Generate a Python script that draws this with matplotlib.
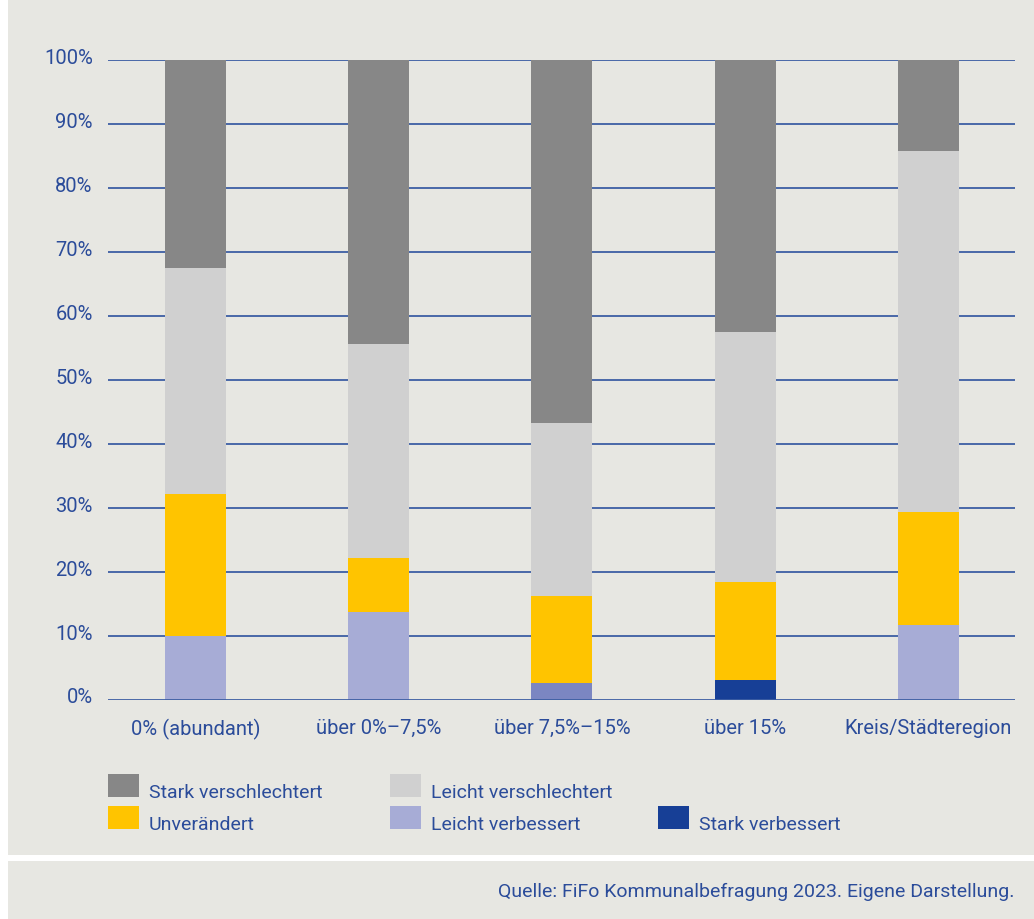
import numpy as np
import matplotlib
matplotlib.use("Agg")
import matplotlib.pyplot as plt
import matplotlib.transforms as mtrans
from matplotlib.patches import Rectangle

plt.rcParams["font.family"] = ["Roboto", "DejaVu Sans"]

# Anteile je Gruppe (in %), von unten nach oben gestapelt
kategorien = ["0% (abundant)", "über 0%–7,5%", "über 7,5%–15%", "über 15%", "Kreis/Städteregion"]
stark_verbessert = [0.0, 0.0, 0.0, 3.1, 0.0]
leicht_verbessert = [10.0, 13.75, 2.7, 0.0, 11.7]
unveraendert = [22.2, 8.45, 13.55, 15.3, 17.7]
leicht_verschlechtert = [35.3, 33.4, 27.0, 39.1, 56.4]
stark_verschlechtert = [32.5, 44.4, 56.75, 42.5, 14.2]
y_ticks = [0, 10, 20, 30, 40, 50, 60, 70, 80, 90, 100]

BG = "#e7e7e2"
BLAU = "#2b4c9a"
GRID = "#3d5ea3"

serien = [
    ("Stark verbessert", stark_verbessert, "#173f96"),
    ("Leicht verbessert", leicht_verbessert, "#a7acd6"),
    ("Unverändert", unveraendert, "#ffc400"),
    ("Leicht verschlechtert", leicht_verschlechtert, "#d0d0d0"),
    ("Stark verschlechtert", stark_verschlechtert, "#878787"),
]

fig = plt.figure(figsize=(10.34, 9.2), dpi=100)
fig.patch.set_facecolor("white")
# Hintergrundflächen: Grafik und Quellenzeile
fig.add_artist(Rectangle((8 / 1034, 64 / 920), 1, 1, transform=fig.transFigure,
                         facecolor=BG, edgecolor="none", zorder=0))
fig.add_artist(Rectangle((8 / 1034, 0), 1, 58 / 920, transform=fig.transFigure,
                         facecolor=BG, edgecolor="none", zorder=0))

ax = fig.add_axes([108 / 1034, 219 / 920, 907 / 1034, 640 / 920])
ax.set_facecolor("none")

x = np.arange(len(kategorien))
breite = 0.333
unten = np.zeros(len(kategorien))
for name, werte, farbe in serien:
    werte = np.array(werte)
    farben = [farbe] * len(kategorien)
    if name == "Leicht verbessert":
        farben[2] = "#7b86c2"
    ax.bar(x, werte, breite, bottom=unten, color=farben, zorder=3, linewidth=0)
    unten += werte

for t in y_ticks[1:]:
    ax.axhline(t, color=GRID, linewidth=1.3, zorder=1)
ax.axhline(0, color=GRID, linewidth=2.0, zorder=4)

ax.set_xlim(-0.477, 4.472)
ax.set_ylim(0, 100)
ax.set_yticks(y_ticks)
ax.set_yticklabels([f"{t}%" for t in y_ticks])
ax.set_xticks(x)
ax.set_xticklabels(kategorien)
ax.tick_params(axis="both", length=0, colors=BLAU, labelsize=14.5)
ax.tick_params(axis="y", pad=11)
ax.tick_params(axis="x", pad=13)
for s in ax.spines.values():
    s.set_visible(False)

# y-Beschriftungen etwas oberhalb der Linien
hoch = mtrans.ScaledTranslation(0, 5 / 100, fig.dpi_scale_trans)
for lbl in ax.get_yticklabels():
    lbl.set_transform(lbl.get_transform() + hoch)

# Legende
legende = [
    (108, 775, "Stark verschlechtert", "#878787"),
    (390, 775, "Leicht verschlechtert", "#d0d0d0"),
    (108, 807, "Unverändert", "#ffc400"),
    (390, 807, "Leicht verbessert", "#a7acd6"),
    (658, 807, "Stark verbessert", "#173f96"),
]
for lx, ly, text, farbe in legende:
    fig.add_artist(Rectangle((lx / 1034, 1 - (ly + 23) / 920), 31 / 1034, 23 / 920,
                             transform=fig.transFigure, facecolor=farbe,
                             edgecolor="none"))
    fig.text((lx + 41) / 1034, 1 - (ly + 23) / 920, text, color=BLAU,
             fontsize=14, va="baseline", ha="left")

fig.text(1015 / 1034, 1 - 892 / 920,
         "Quelle: FiFo Kommunalbefragung 2023. Eigene Darstellung.",
         color=BLAU, fontsize=14, ha="right", va="center")

fig.savefig("out.png", dpi=100, facecolor=fig.get_facecolor())
